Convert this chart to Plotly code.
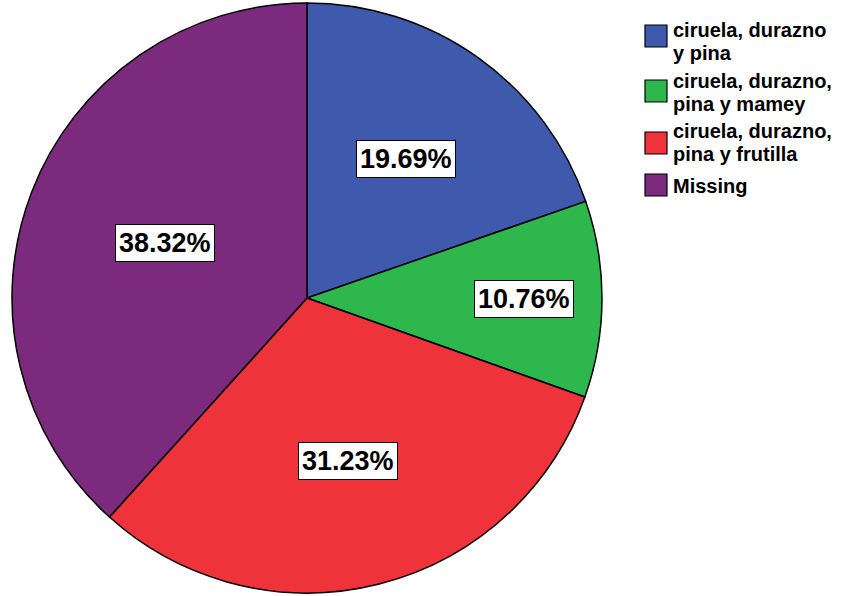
import math
import plotly.graph_objects as go

categories = ["ciruela, durazno\ny pina", "ciruela, durazno,\npina y mamey",
              "ciruela, durazno,\npina y frutilla", "Missing"]
percent = [19.69, 10.76, 31.23, 38.32]
colors = ["#3F59AD", "#2EB74C", "#EE333B", "#7B2A7E"]
label_radius = [0.58, 0.735, 0.57, 0.516]

W, H = 861, 596
cx, cy, R = 307, 298, 295

fig = go.Figure(go.Pie(
    labels=[c.replace("\n", " ") for c in categories],
    values=percent,
    sort=False,
    direction="clockwise",
    rotation=0,
    marker=dict(colors=colors, line=dict(color="black", width=1.5)),
    textinfo="none",
    hoverinfo="label+percent",
    domain=dict(x=[12 / W, 602 / W], y=[0, 1]),
    showlegend=False,
))

annotations = []
shapes = []
total = sum(percent)
cum = 0.0
for v, f in zip(percent, label_radius):
    mid = (cum + v / 2) / total * 2 * math.pi
    cum += v
    px = cx + f * R * math.sin(mid)
    py = cy - f * R * math.cos(mid)
    annotations.append(dict(
        x=px / W, y=1 - py / H, xref="paper", yref="paper",
        text=f"{v:.2f}%", showarrow=False,
        font=dict(family="Liberation Sans", size=27, color="black", weight="bold"),
        bgcolor="white", bordercolor="black", borderwidth=1, borderpad=3,
        xanchor="center", yanchor="middle",
    ))

# legend (drawn manually)
item_top = [25, 80, 132, 174]
line_centers = [[30, 53], [81, 104], [131, 154], [186]]
for cat, col, top, centers in zip(categories, colors, item_top, line_centers):
    shapes.append(dict(type="rect", xref="paper", yref="paper",
                       x0=645 / W, x1=667 / W, y0=1 - top / H, y1=1 - (top + 22) / H,
                       fillcolor=col, line=dict(color="black", width=1.2)))
    for line, yc in zip(cat.split("\n"), centers):
        annotations.append(dict(
            x=671 / W, y=1 - yc / H, xref="paper", yref="paper",
            text=line, showarrow=False, xanchor="left", yanchor="middle",
            font=dict(family="Liberation Sans", size=20, color="black", weight="bold"),
        ))

fig.update_layout(
    width=W, height=H,
    margin=dict(l=0, r=0, t=0, b=0),
    paper_bgcolor="white", plot_bgcolor="white",
    annotations=annotations, shapes=shapes,
)
fig.write_html("out.html")
